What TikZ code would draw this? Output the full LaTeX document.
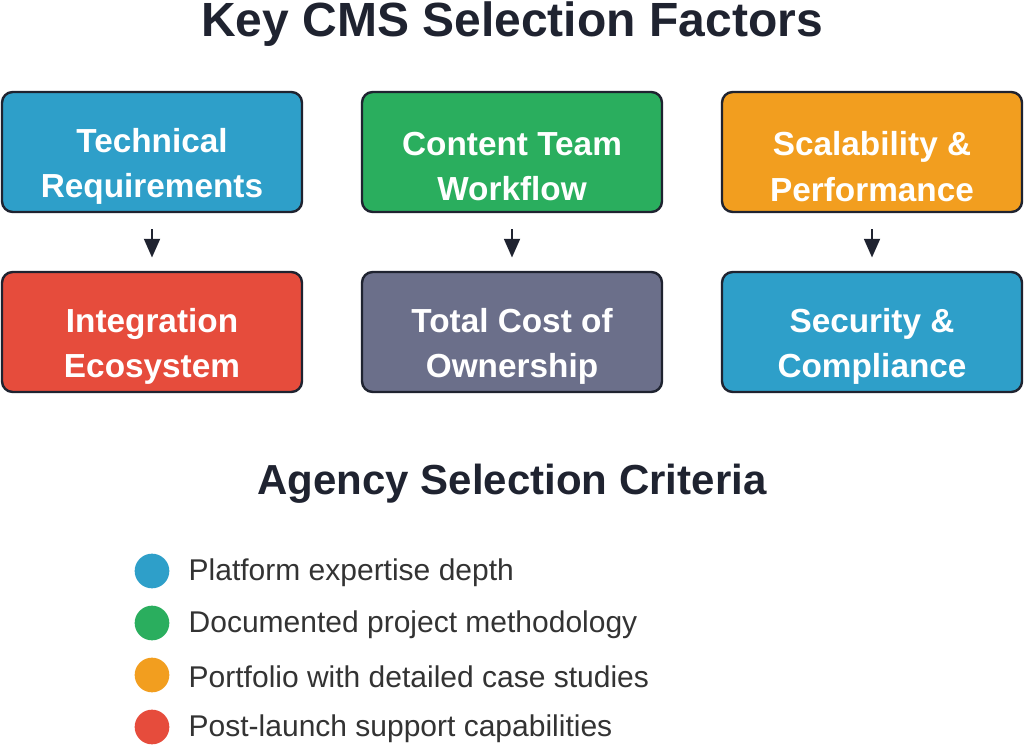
\documentclass[tikz,border=0pt]{standalone}
\usepackage{fontspec}
\setmainfont{Liberation Sans}
\usetikzlibrary{arrows.meta}
\definecolor{cblue}{HTML}{2E9FC9}
\definecolor{cgreen}{HTML}{2AAE5E}
\definecolor{corange}{HTML}{F29E1F}
\definecolor{cred}{HTML}{E64C3C}
\definecolor{cslate}{HTML}{6B6F8A}
\definecolor{cdark}{HTML}{1F2330}
\definecolor{ctext}{HTML}{333333}
\tikzset{
  factor/.style={draw=cdark, line width=1.8pt, rounded corners=8pt, minimum width=225pt, minimum height=90pt},
  ftext/.style={align=center, text=white, yshift=-11pt, font=\fontsize{25}{34}\selectfont\bfseries},
  link/.style={draw=cdark, line width=1.4pt, -{Triangle[width=12pt,length=14pt]}},
  dot/.style={circle, minimum size=26pt, inner sep=0pt},
  crit/.style={anchor=west, text=ctext, font=\fontsize{22.5}{27}\selectfont}
}
\begin{document}
\begin{tikzpicture}[x=0.75pt,y=-0.75pt]
  \useasboundingbox (0,0) rectangle (1024,748);
  % titles
  \node[text=cdark, font=\fontsize{36}{42}\selectfont\bfseries] (title) at (512,24) {Key CMS Selection Factors};
  \node[text=cdark, font=\fontsize{31.5}{36}\selectfont\bfseries] (subtitle) at (512,484) {Agency Selection Criteria};
  % factor boxes
  \node[factor, fill=cblue, label={[ftext]center:Technical\\Requirements}] (tech) at (152,152) {};
  \node[factor, fill=cgreen, label={[ftext]center:Content Team\\Workflow}] (team) at (512,152) {};
  \node[factor, fill=corange, label={[ftext]center:Scalability \&\\Performance}] (scale) at (872,152) {};
  \node[factor, fill=cred, label={[ftext]center:Integration\\Ecosystem}] (integ) at (152,332) {};
  \node[factor, fill=cslate, label={[ftext]center:Total Cost of\\Ownership}] (cost) at (512,332) {};
  \node[factor, fill=cblue, label={[ftext]center:Security \&\\Compliance}] (secure) at (872,332) {};
  % arrows
  \draw[link, shorten <=12pt, shorten >=10pt] (tech) -- (integ);
  \draw[link, shorten <=12pt, shorten >=10pt] (team) -- (cost);
  \draw[link, shorten <=12pt, shorten >=10pt] (scale) -- (secure);
  % criteria
  \node[dot, fill=cblue] (d1) at (152,571) {};
  \node[dot, fill=cgreen] (d2) at (152,623) {};
  \node[dot, fill=corange] (d3) at (152,675) {};
  \node[dot, fill=cred] (d4) at (152,727) {};
  \node[crit] (c1) at (184,573) {Platform expertise depth};
  \node[crit] (c2) at (184,625) {Documented project methodology};
  \node[crit] (c3) at (184,677) {Portfolio with detailed case studies};
  \node[crit] (c4) at (184,729) {Post-launch support capabilities};
\end{tikzpicture}
\end{document}
